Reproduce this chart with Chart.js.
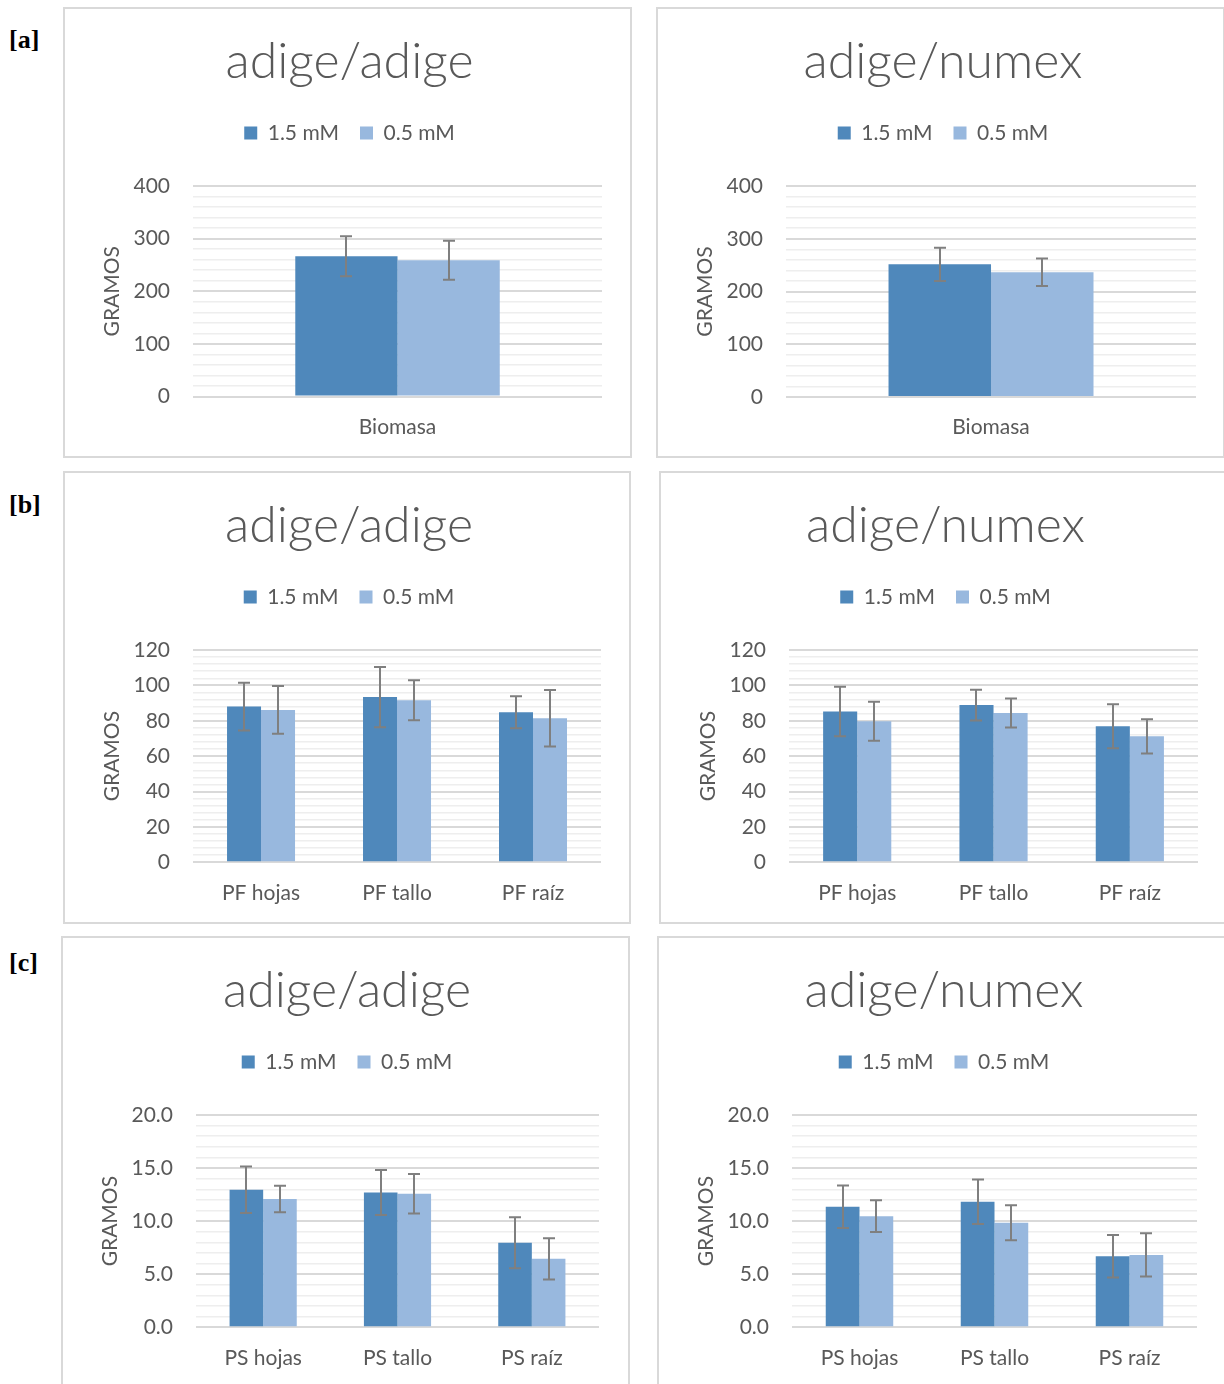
<!DOCTYPE html>
<html>
<head>
<meta charset="utf-8">
<title>Biomasa, PF y PS</title>
<script src="https://cdn.jsdelivr.net/npm/chart.js@4.4.1/dist/chart.umd.min.js"></script>
<style>
  html, body { margin: 0; padding: 0; background: #ffffff; }
  body { width: 1224px; height: 1384px; position: relative; overflow: hidden; }
  .panel { position: absolute; border: 2px solid #d9d9d9; background: #ffffff; }
  .panel canvas { display: block; }
  .tag { position: absolute; font-family: "Liberation Serif", "DejaVu Serif", serif;
         font-weight: bold; font-size: 26px; color: #000000; line-height: 1; }
</style>
</head>
<body>

<div class="tag" style="left:9px; top:27px;">[a]</div>
<div class="tag" style="left:9px; top:492px;">[b]</div>
<div class="tag" style="left:9px; top:950px;">[c]</div>

<div class="panel" style="left:63px;  top:7px;   width:565px; height:447px;"><canvas id="aAdige" width="565" height="447"></canvas></div>
<div class="panel" style="left:656px; top:7px;   width:565px; height:447px;"><canvas id="aNumex" width="565" height="447"></canvas></div>
<div class="panel" style="left:63px;  top:471px; width:564px; height:449px;"><canvas id="bAdige" width="564" height="449"></canvas></div>
<div class="panel" style="left:659px; top:471px; width:565px; height:449px;"><canvas id="bNumex" width="565" height="449"></canvas></div>
<div class="panel" style="left:61px;  top:936px; width:565px; height:447px;"><canvas id="cAdige" width="565" height="447"></canvas></div>
<div class="panel" style="left:657px; top:936px; width:565px; height:447px;"><canvas id="cNumex" width="565" height="447"></canvas></div>

<script>
// ---- data ----
const seriesNames = ['1.5 mM', '0.5 mM'];
const titleAdige = 'adige/adige';
const titleNumex = 'adige/numex';
const yAxisTitle = 'GRAMOS';

const catBiomasa = ['Biomasa'];
const catPF = ['PF hojas', 'PF tallo', 'PF raíz'];
const catPS = ['PS hojas', 'PS tallo', 'PS raíz'];

// [a] biomasa total
const biomasaAdige15 = [266.7];
const biomasaAdige15Err = [38];
const biomasaAdige05 = [259];
const biomasaAdige05Err = [37];
const biomasaNumex15 = [251.6];
const biomasaNumex15Err = [31.5];
const biomasaNumex05 = [236.4];
const biomasaNumex05Err = [26];

// [b] peso fresco
const pfAdige15 = [88.0, 93.4, 84.8];
const pfAdige15Err = [13.5, 17.0, 9.0];
const pfAdige05 = [86.1, 91.6, 81.4];
const pfAdige05Err = [13.5, 11.3, 16.0];
const pfNumex15 = [85.2, 88.9, 76.9];
const pfNumex15Err = [14.0, 8.7, 12.4];
const pfNumex05 = [79.7, 84.4, 71.2];
const pfNumex05Err = [11.0, 8.2, 9.7];

// [c] peso seco
const psAdige15 = [12.96, 12.70, 7.96];
const psAdige15Err = [2.2, 2.12, 2.4];
const psAdige05 = [12.08, 12.58, 6.45];
const psAdige05Err = [1.25, 1.86, 1.94];
const psNumex15 = [11.35, 11.82, 6.70];
const psNumex15Err = [2.0, 2.1, 2.0];
const psNumex05 = [10.47, 9.84, 6.82];
const psNumex05Err = [1.5, 1.65, 2.03];

// axis ranges: max, minor step, labelled step, decimals
const axisBiomasa = { max: 400, step: 20, major: 100, digits: 0 };
const axisPF = { max: 120, step: 4, major: 20, digits: 0 };
const axisPS = { max: 20, step: 1, major: 5, digits: 1 };

// ---- styling ----
const TEXT = '#595959';
const COLOR_HI = '#4f88bb';
const COLOR_LO = '#98b8de';
const FONT = 'Lato, "Open Sans", sans-serif';
Chart.defaults.font.family = FONT;
Chart.defaults.color = TEXT;

const Y_TICK_PAD = 23;
const X_TICK_PAD = 18;

// vertical error bars drawn from each dataset's `errors` array
const errorBars = {
  id: 'errorBars',
  afterDatasetsDraw(chart) {
    const { ctx } = chart;
    const y = chart.scales.y;
    ctx.save();
    ctx.strokeStyle = '#7f7f7f';
    ctx.lineWidth = 2;
    chart.data.datasets.forEach((ds, di) => {
      const meta = chart.getDatasetMeta(di);
      meta.data.forEach((bar, i) => {
        const v = ds.data[i];
        const e = ds.errors[i];
        const yTop = y.getPixelForValue(v + e);
        const yBot = y.getPixelForValue(v - e);
        const x = Math.round(bar.x);
        const cap = 6;
        ctx.beginPath();
        ctx.moveTo(x, yTop); ctx.lineTo(x, yBot);
        ctx.moveTo(x - cap, yTop); ctx.lineTo(x + cap, yTop);
        ctx.moveTo(x - cap, yBot); ctx.lineTo(x + cap, yBot);
        ctx.stroke();
      });
    });
    ctx.restore();
  }
};

function isMajor(v, major) {
  const r = v / major;
  return Math.abs(r - Math.round(r)) < 1e-6;
}

function drawPanel(id, title, cats, hi, hiErr, lo, loErr, axis, padRight, padBottom) {
  new Chart(document.getElementById(id), {
    type: 'bar',
    data: {
      labels: cats,
      datasets: [
        { label: seriesNames[0], data: hi, errors: hiErr, backgroundColor: COLOR_HI, borderWidth: 0,
          barPercentage: 1, categoryPercentage: 0.5 },
        { label: seriesNames[1], data: lo, errors: loErr, backgroundColor: COLOR_LO, borderWidth: 0,
          barPercentage: 1, categoryPercentage: 0.5 }
      ]
    },
    options: {
      responsive: false,
      animation: false,
      events: [],
      layout: { padding: { top: 0, left: 32, right: padRight, bottom: padBottom } },
      plugins: {
        title: {
          display: true, text: title, color: TEXT,
          font: { size: 50, weight: '300', lineHeight: '60px' },
          padding: { top: 23, bottom: 9.5 }
        },
        legend: {
          display: true, position: 'top',
          labels: { boxWidth: 13, boxHeight: 13, padding: 21, color: TEXT, font: { size: 21 } }
        },
        subtitle: {
          display: true, text: '', weight: 500,
          font: { size: 10, lineHeight: 1 },
          padding: { top: 22.5, bottom: 0 }
        },
        tooltip: { enabled: false }
      },
      scales: {
        x: {
          grid: { display: false, drawTicks: false },
          border: { display: false },
          ticks: { color: TEXT, font: { size: 21 }, padding: X_TICK_PAD },
          // labels take the padding once, on the side of the plot
          afterFit: (s) => { s.height -= X_TICK_PAD; }
        },
        y: {
          min: 0, max: axis.max,
          border: { display: false },
          grid: {
            drawTicks: false,
            color: (c) => isMajor(c.tick.value, axis.major) ? '#d9d9d9' : '#eeeeee',
            lineWidth: (c) => isMajor(c.tick.value, axis.major) ? 2 : 1.5
          },
          ticks: {
            stepSize: axis.step, autoSkip: false, padding: Y_TICK_PAD,
            color: TEXT, font: { size: 21 },
            callback: (v) => isMajor(v, axis.major) ? Number(v).toFixed(axis.digits) : ''
          },
          afterFit: (s) => { s.width -= Y_TICK_PAD; },
          title: {
            display: true, text: yAxisTitle, color: TEXT,
            font: { size: 21 }, padding: { top: 2.4, bottom: 8.9 }
          }
        }
      }
    },
    plugins: [errorBars]
  });
}

drawPanel('aAdige', titleAdige, catBiomasa, biomasaAdige15, biomasaAdige15Err, biomasaAdige05, biomasaAdige05Err, axisBiomasa, 28, 16.3);
drawPanel('aNumex', titleNumex, catBiomasa, biomasaNumex15, biomasaNumex15Err, biomasaNumex05, biomasaNumex05Err, axisBiomasa, 27, 15.8);
drawPanel('bAdige', titleAdige, catPF, pfAdige15, pfAdige15Err, pfAdige05, pfAdige05Err, axisPF, 28, 16.5);
drawPanel('bNumex', titleNumex, catPF, pfNumex15, pfNumex15Err, pfNumex05, pfNumex05Err, axisPF, 28, 16.5);
drawPanel('cAdige', titleAdige, catPS, psAdige15, psAdige15Err, psAdige05, psAdige05Err, axisPS, 29, 14.5);
drawPanel('cNumex', titleNumex, catPS, psNumex15, psNumex15Err, psNumex05, psNumex05Err, axisPS, 27, 14.5);
</script>
</body>
</html>
